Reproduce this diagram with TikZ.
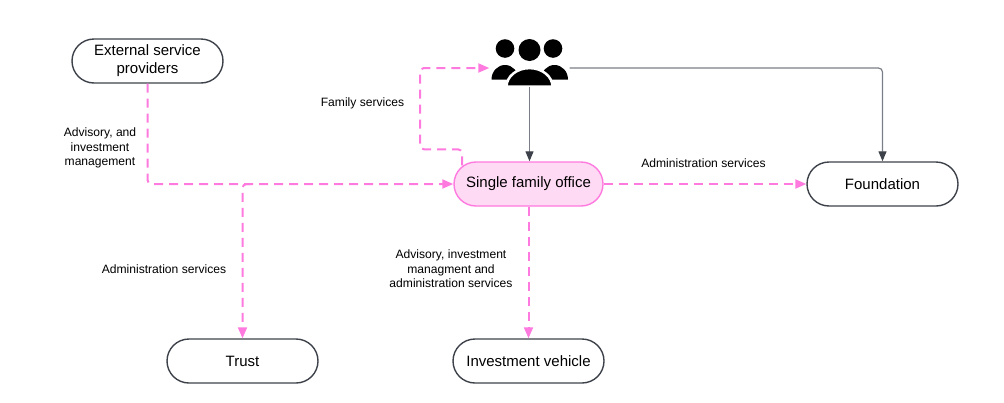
\documentclass[tikz,border=0pt]{standalone}
\usepackage{fontspec}
\setmainfont{Liberation Sans}
\usetikzlibrary{arrows.meta}
\definecolor{rosa}{HTML}{FF7ADF}
\definecolor{rosaclaro}{HTML}{FFDAF5}
\definecolor{cinza}{HTML}{3D424A}
\definecolor{cinzalinha}{HTML}{7A7F87}
\tikzset{
  caixa/.style={draw=cinza, line width=1.4pt, rounded corners=22pt, minimum width=151pt, minimum height=44pt, inner sep=0pt, align=center, font=\fontsize{15}{18}\selectfont},
  servico/.style={draw=rosa, line width=2pt, dash pattern=on 9pt off 6pt, rounded corners=4pt, -{Triangle[length=11pt,width=9pt]}},
  ligacao/.style={draw=cinzalinha, line width=1.2pt, rounded corners=4pt, -{Triangle[length=10pt,width=8pt,color=cinza]}},
  rotulo/.style={font=\fontsize{12.1}{14.5}\selectfont, align=center, inner sep=0pt},
}
\begin{document}
\begin{tikzpicture}[x=1pt,y=-1pt] %Escala em pixels
    \useasboundingbox (0,0) rectangle (1004,402);
        %Caixas
    \node[caixa] (ext) at (147.5,61) {External service\\providers};
    \node[caixa, draw=rosa, fill=rosaclaro, minimum width=149pt] (sfo) at (528.5,184) {Single family office};
    \node[caixa] (found) at (882.5,184) {Foundation};
    \node[caixa] (trust) at (242.5,361) {Trust};
    \node[caixa] (inv) at (528.5,361) {Investment vehicle};
        %Icone da familia
    \node[minimum width=80pt, minimum height=38pt, inner sep=0pt] (fam) at (529.5,68) {};
    \fill (505,48.5) circle[radius=9.3pt]; %Cabeca esquerda
    \fill (529.5,50) circle[radius=11pt]; %Cabeca do meio
    \fill (553,48.5) circle[radius=9.3pt]; %Cabeca direita
    \fill (491.5,79.5) arc[start angle=180, end angle=0, x radius=13.5pt, y radius=14.5pt] -- cycle;
    \fill (541,79.5) arc[start angle=180, end angle=0, x radius=13.5pt, y radius=14.5pt] -- cycle;
    \filldraw[fill=black, draw=white, line width=2.5pt] (506.5,86.7) arc[start angle=180, end angle=0, x radius=23pt, y radius=18.6pt] -- cycle;
        %Setas cinza
    \draw[ligacao] (fam.south) -- (fam.south |- sfo.north);
    \draw[ligacao] (fam.east) -| (found.north);
        %Setas rosa
    \path (trust.north |- sfo.west) ++(8,0) coordinate (ramo);
    \draw[servico] (ext.south) |- (sfo.west);
    \draw[servico] (ramo) -| (trust.north);
    \draw[servico] (sfo.east) -- (found.west);
    \draw[servico] (sfo.south) -- (inv.north);
    \draw[servico] ([xshift=-66.5pt,yshift=-4pt]sfo.north) -- ++(0,-16) -- ++(-42,0) |- (fam.west);
        %Rotulos
    \node[rotulo] (lbext) at (100,148) {Advisory, and\\investment\\management};
    \node[rotulo] (lbfam) at (362.5,103) {Family services};
    \node[rotulo] (lbfound) at (703.5,163) {Administration services};
    \node[rotulo] (lbtrust) at (164,269) {Administration services};
    \node[rotulo] (lbinv) at (451,269) {Advisory, investment\\managment and\\administration services};
\end{tikzpicture}
\end{document}
